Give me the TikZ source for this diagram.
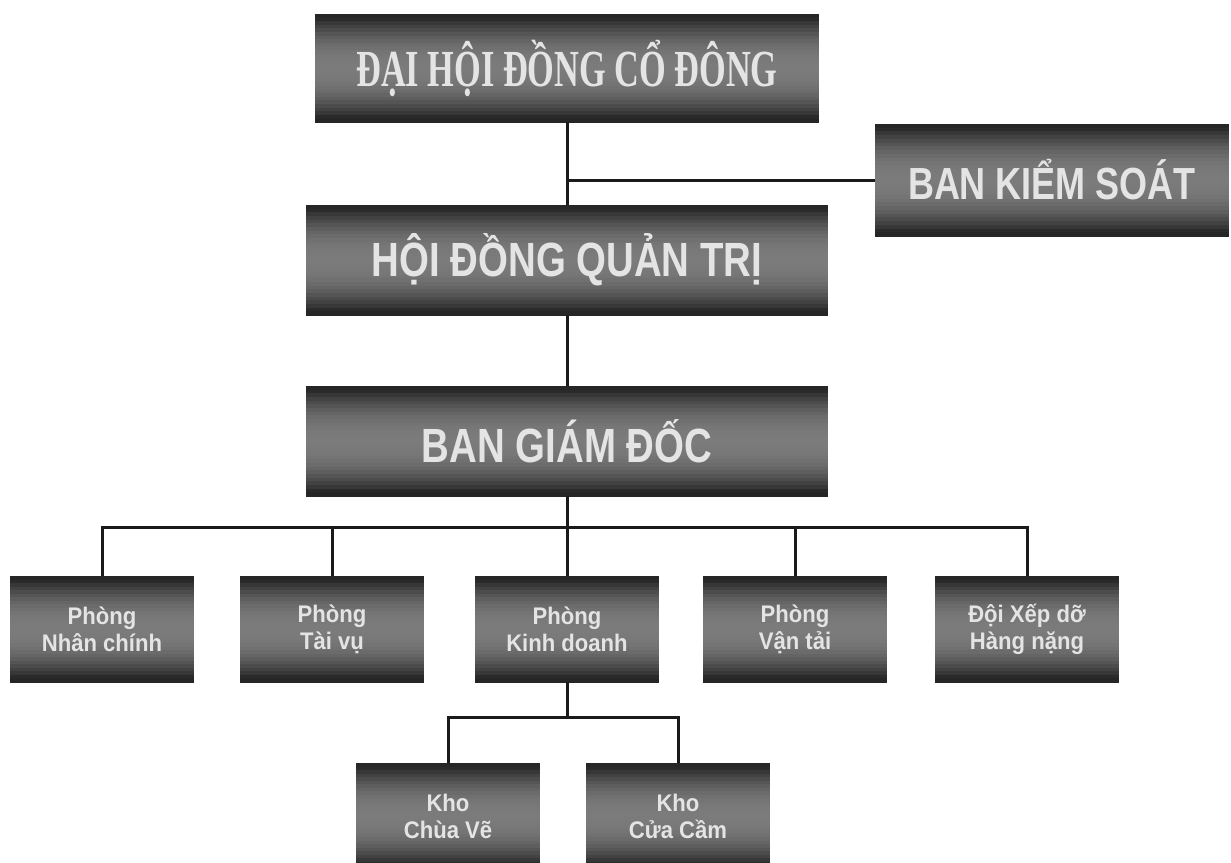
\documentclass[tikz,border=0pt]{standalone}
\usepackage{fontspec}
\usetikzlibrary{calc}
\setmainfont{Liberation Sans}
\newfontfamily\serifcond[FakeStretch=0.66]{Liberation Serif}
\newfontfamily\sanscond[FakeStretch=0.8]{Liberation Sans}
\newfontfamily\sanssmall[FakeStretch=0.92]{Liberation Sans}
\definecolor{boxdark}{HTML}{262626}
\definecolor{boxmid}{HTML}{8A8A8A}
\definecolor{boxtext}{HTML}{E4E4E4}
\definecolor{linecol}{HTML}{1A1A1A}
\begin{document}
\begin{tikzpicture}[x=1pt,y=-1pt,
  darkbox/.style={rectangle, inner sep=0pt, fill=boxdark, text=boxtext, align=center,
    path picture={
      \foreach \i in {0,...,29} {
        \pgfmathsetmacro\tt{abs(\i-14.5)/14.5}
        \pgfmathsetmacro\pp{min(100,95*\tt^2.2+15)}
        \fill[boxdark!\pp!boxmid]
          ($(path picture bounding box.north west)!{\i/30}!(path picture bounding box.south west)$)
          rectangle
          ($(path picture bounding box.north east)!{(\i+1.2)/30}!(path picture bounding box.south east)$);
      }
    }},
  bigserif/.style={darkbox, minimum width=504pt, minimum height=108pt, font=\serifcond\bfseries\fontsize{52}{56}\selectfont},
  bigsans/.style={darkbox, minimum width=522pt, minimum height=110pt, font=\sanscond\bfseries\fontsize{48}{52}\selectfont},
  smallbox/.style={darkbox, minimum width=184pt, minimum height=106pt, font=\sanssmall\bfseries\fontsize{24}{27}\selectfont},
  conn/.style={draw=linecol, line width=3pt}]
\useasboundingbox (0,0) rectangle (1231,862);
\clip (0,0) rectangle (1231,862);
\fill[white] (0,0) rectangle (1231,862);

\node[bigserif] (dh) at (567,68) {ĐẠI HỘI ĐỒNG CỔ ĐÔNG};
\node[bigsans, minimum width=354pt, minimum height=112pt, font=\sanscond\bfseries\fontsize{45}{50}\selectfont] (bks) at (1052,180) {BAN KIỂM SOÁT};
\node[bigsans] (hdqt) at (567,260) {HỘI ĐỒNG QUẢN TRỊ};
\node[bigsans] (bgd) at (567,441) {BAN GIÁM ĐỐC};

\node[smallbox] (n1) at (102,629) {Phòng\\Nhân chính};
\node[smallbox] (n2) at (332,629) {Phòng\\Tài vụ};
\node[smallbox] (n3) at (567,629) {Phòng\\Kinh doanh};
\node[smallbox] (n4) at (795,629) {Phòng\\Vận tải};
\node[smallbox] (n5) at (1027,629) {Đội Xếp dỡ\\Hàng nặng};

\node[smallbox] (k1) at (448,816) {Kho\\Chùa Vẽ};
\node[smallbox] (k2) at (678,816) {Kho\\Cửa Cầm};

\coordinate (bus) at (567,527);
\coordinate (kbus) at (567,717);

\draw[conn] (dh.south) -- (hdqt.north);
\draw[conn] (bks.west) -- (bks.west -| dh.south);
\draw[conn] (hdqt.south) -- (bgd.north);
\draw[conn] (bgd.south) -- (n3.north);
\draw[conn] (n1.north) |- (bus) -| (n5.north);
\draw[conn] (n2.north) -- (n2.north |- bus);
\draw[conn] (n4.north) -- (n4.north |- bus);
\draw[conn] (n3.south) -- (kbus);
\draw[conn] (k1.north) |- (kbus) -| (k2.north);
\end{tikzpicture}
\end{document}
